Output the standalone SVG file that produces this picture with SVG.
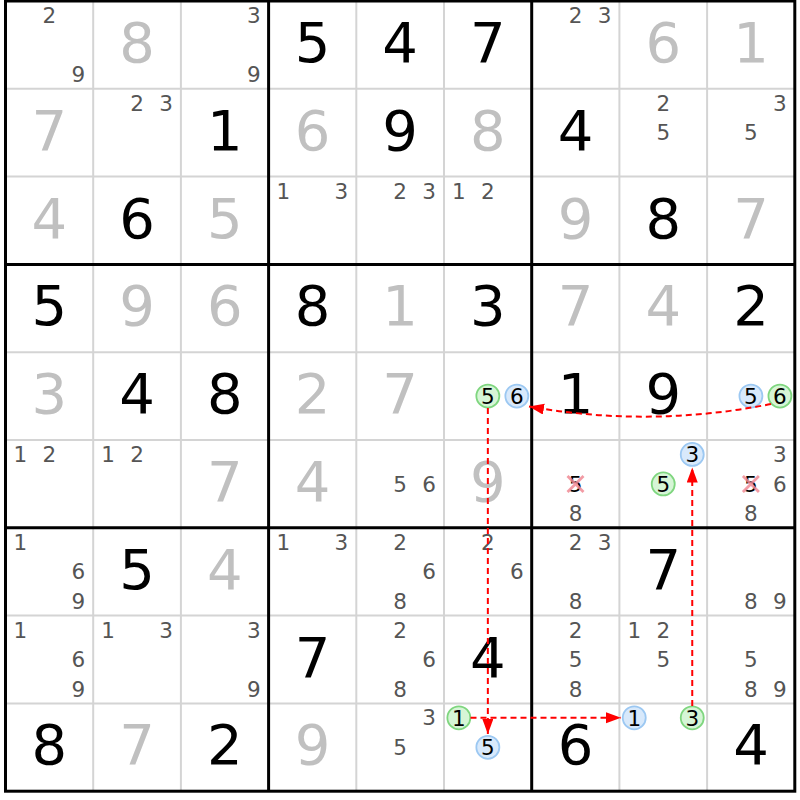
<svg xmlns="http://www.w3.org/2000/svg" width="800" height="800" viewBox="0 0 800 800">
<style>
text{font-family:"DejaVu Sans","Liberation Sans",sans-serif;text-anchor:middle}
.b{font-size:56px;fill:#000}
.s{font-size:56px;fill:#c0c0c0}
.c{font-size:21.5px;fill:#555}
.k{font-size:21.5px;fill:#000}
.gc{fill:#d6f5d6;stroke:#7fd67f;stroke-width:1.8}
.bc{fill:#d8e9fb;stroke:#9cc8f2;stroke-width:1.8}
.x{stroke:#f08a94;stroke-width:2.8;opacity:.85;fill:none}
.thin{stroke:#d4d4d4;stroke-width:2}
.thick{stroke:#000;stroke-width:3}
.ar{stroke:#f00;stroke-width:2;stroke-dasharray:6 4;fill:none}
</style>
<defs>
<marker id="ah" markerUnits="userSpaceOnUse" markerWidth="16" markerHeight="12" refX="15" refY="5.5" orient="auto">
<path d="M0,0 L15,5.5 L0,11 z" fill="#f00"/>
</marker>
</defs>
<rect width="800" height="800" fill="#fff"/>
<g id="grid">
<g class="thin">
<line x1="93.2" y1="1" x2="93.2" y2="791.2"/><line x1="180.9" y1="1" x2="180.9" y2="791.2"/>
<line x1="356.3" y1="1" x2="356.3" y2="791.2"/><line x1="444" y1="1" x2="444" y2="791.2"/>
<line x1="619.4" y1="1" x2="619.4" y2="791.2"/><line x1="707.1" y1="1" x2="707.1" y2="791.2"/>
<line x1="5.5" y1="88.8" x2="794.8" y2="88.8"/><line x1="5.5" y1="176.6" x2="794.8" y2="176.6"/>
<line x1="5.5" y1="352.2" x2="794.8" y2="352.2"/><line x1="5.5" y1="440" x2="794.8" y2="440"/>
<line x1="5.5" y1="615.6" x2="794.8" y2="615.6"/><line x1="5.5" y1="703.4" x2="794.8" y2="703.4"/>
</g>
<g class="thick">
<line x1="268.6" y1="1" x2="268.6" y2="791.2"/><line x1="531.7" y1="1" x2="531.7" y2="791.2"/>
<line x1="5.5" y1="264.4" x2="794.8" y2="264.4"/><line x1="5.5" y1="527.8" x2="794.8" y2="527.8"/>
<rect x="5.5" y="1" width="789.3" height="790.2" fill="none"/>
</g>
</g>

<g id="row0">
<g id="r0c0"><text class="c" x="49.35" y="23">2</text><text class="c" x="78.35" y="82">9</text></g>
<g id="r0c1"><text class="s" x="137.05" y="62">8</text></g>
<g id="r0c2"><text class="c" x="253.75" y="23">3</text><text class="c" x="253.75" y="82">9</text></g>
<g id="r0c3"><text class="b" x="312.45" y="62">5</text></g>
<g id="r0c4"><text class="b" x="400.15" y="62">4</text></g>
<g id="r0c5"><text class="b" x="487.85" y="62">7</text></g>
<g id="r0c6"><text class="c" x="575.55" y="23">2</text><text class="c" x="604.55" y="23">3</text></g>
<g id="r0c7"><text class="s" x="663.25" y="62">6</text></g>
<g id="r0c8"><text class="s" x="750.95" y="62">1</text></g>
</g>

<g id="row1">
<g id="r1c0"><text class="s" x="49.35" y="149.8">7</text></g>
<g id="r1c1"><text class="c" x="137.05" y="110.8">2</text><text class="c" x="166.05" y="110.8">3</text></g>
<g id="r1c2"><text class="b" x="224.75" y="149.8">1</text></g>
<g id="r1c3"><text class="s" x="312.45" y="149.8">6</text></g>
<g id="r1c4"><text class="b" x="400.15" y="149.8">9</text></g>
<g id="r1c5"><text class="s" x="487.85" y="149.8">8</text></g>
<g id="r1c6"><text class="b" x="575.55" y="149.8">4</text></g>
<g id="r1c7"><text class="c" x="663.25" y="110.8">2</text><text class="c" x="663.25" y="140.3">5</text></g>
<g id="r1c8"><text class="c" x="779.95" y="110.8">3</text><text class="c" x="750.95" y="140.3">5</text></g>
</g>

<g id="row2">
<g id="r2c0"><text class="s" x="49.35" y="237.6">4</text></g>
<g id="r2c1"><text class="b" x="137.05" y="237.6">6</text></g>
<g id="r2c2"><text class="s" x="224.75" y="237.6">5</text></g>
<g id="r2c3"><text class="c" x="283.45" y="198.6">1</text><text class="c" x="341.45" y="198.6">3</text></g>
<g id="r2c4"><text class="c" x="400.15" y="198.6">2</text><text class="c" x="429.15" y="198.6">3</text></g>
<g id="r2c5"><text class="c" x="458.85" y="198.6">1</text><text class="c" x="487.85" y="198.6">2</text></g>
<g id="r2c6"><text class="s" x="575.55" y="237.6">9</text></g>
<g id="r2c7"><text class="b" x="663.25" y="237.6">8</text></g>
<g id="r2c8"><text class="s" x="750.95" y="237.6">7</text></g>
</g>

<g id="row3">
<g id="r3c0"><text class="b" x="49.35" y="325.4">5</text></g>
<g id="r3c1"><text class="s" x="137.05" y="325.4">9</text></g>
<g id="r3c2"><text class="s" x="224.75" y="325.4">6</text></g>
<g id="r3c3"><text class="b" x="312.45" y="325.4">8</text></g>
<g id="r3c4"><text class="s" x="400.15" y="325.4">1</text></g>
<g id="r3c5"><text class="b" x="487.85" y="325.4">3</text></g>
<g id="r3c6"><text class="s" x="575.55" y="325.4">7</text></g>
<g id="r3c7"><text class="s" x="663.25" y="325.4">4</text></g>
<g id="r3c8"><text class="b" x="750.95" y="325.4">2</text></g>
</g>

<g id="row4">
<g id="r4c0"><text class="s" x="49.35" y="413.2">3</text></g>
<g id="r4c1"><text class="b" x="137.05" y="413.2">4</text></g>
<g id="r4c2"><text class="b" x="224.75" y="413.2">8</text></g>
<g id="r4c3"><text class="s" x="312.45" y="413.2">2</text></g>
<g id="r4c4"><text class="s" x="400.15" y="413.2">7</text></g>
<g id="r4c5"><circle class="gc" cx="487.85" cy="396.1" r="11.5"/><text class="k" x="487.85" y="403.9">5</text><circle class="bc" cx="516.85" cy="396.1" r="11.5"/><text class="k" x="516.85" y="403.9">6</text></g>
<g id="r4c6"><text class="b" x="575.55" y="413.2">1</text></g>
<g id="r4c7"><text class="b" x="663.25" y="413.2">9</text></g>
<g id="r4c8"><circle class="bc" cx="750.95" cy="396.1" r="11.5"/><text class="k" x="750.95" y="403.9">5</text><circle class="gc" cx="779.95" cy="396.1" r="11.5"/><text class="k" x="779.95" y="403.9">6</text></g>
</g>

<g id="row5">
<g id="r5c0"><text class="c" x="20.35" y="462">1</text><text class="c" x="49.35" y="462">2</text></g>
<g id="r5c1"><text class="c" x="108.05" y="462">1</text><text class="c" x="137.05" y="462">2</text></g>
<g id="r5c2"><text class="s" x="224.75" y="501">7</text></g>
<g id="r5c3"><text class="s" x="312.45" y="501">4</text></g>
<g id="r5c4"><text class="c" x="400.15" y="491.6">5</text><text class="c" x="429.15" y="491.6">6</text></g>
<g id="r5c5"><text class="s" x="487.85" y="501">9</text></g>
<g id="r5c6"><text class="k" x="575.55" y="491.6">5</text><path class="x" d="M567.5,475.9 L583.5,491.9 M583.5,475.9 L567.5,491.9"/><text class="c" x="575.55" y="521">8</text></g>
<g id="r5c7"><circle class="bc" cx="692.25" cy="454.4" r="11.5"/><text class="k" x="692.25" y="462.2">3</text><circle class="gc" cx="663.25" cy="483.9" r="11.5"/><text class="k" x="663.25" y="491.7">5</text></g>
<g id="r5c8"><text class="c" x="779.95" y="462">3</text><text class="k" x="750.95" y="491.6">5</text><path class="x" d="M742.9,475.9 L758.9,491.9 M758.9,475.9 L742.9,491.9"/><text class="c" x="779.95" y="491.6">6</text><text class="c" x="750.95" y="521">8</text></g>
</g>

<g id="row6">
<g id="r6c0"><text class="c" x="20.35" y="549.8">1</text><text class="c" x="78.35" y="579.3">6</text><text class="c" x="78.35" y="608.8">9</text></g>
<g id="r6c1"><text class="b" x="137.05" y="588.8">5</text></g>
<g id="r6c2"><text class="s" x="224.75" y="588.8">4</text></g>
<g id="r6c3"><text class="c" x="283.45" y="549.8">1</text><text class="c" x="341.45" y="549.8">3</text></g>
<g id="r6c4"><text class="c" x="400.15" y="549.8">2</text><text class="c" x="429.15" y="579.3">6</text><text class="c" x="400.15" y="608.8">8</text></g>
<g id="r6c5"><text class="c" x="487.85" y="549.8">2</text><text class="c" x="516.85" y="579.3">6</text></g>
<g id="r6c6"><text class="c" x="575.55" y="549.8">2</text><text class="c" x="604.55" y="549.8">3</text><text class="c" x="575.55" y="608.8">8</text></g>
<g id="r6c7"><text class="b" x="663.25" y="588.8">7</text></g>
<g id="r6c8"><text class="c" x="750.95" y="608.8">8</text><text class="c" x="779.95" y="608.8">9</text></g>
</g>

<g id="row7">
<g id="r7c0"><text class="c" x="20.35" y="637.6">1</text><text class="c" x="78.35" y="667.1">6</text><text class="c" x="78.35" y="696.6">9</text></g>
<g id="r7c1"><text class="c" x="108.05" y="637.6">1</text><text class="c" x="166.05" y="637.6">3</text></g>
<g id="r7c2"><text class="c" x="253.75" y="637.6">3</text><text class="c" x="253.75" y="696.6">9</text></g>
<g id="r7c3"><text class="b" x="312.45" y="676.6">7</text></g>
<g id="r7c4"><text class="c" x="400.15" y="637.6">2</text><text class="c" x="429.15" y="667.1">6</text><text class="c" x="400.15" y="696.6">8</text></g>
<g id="r7c5"><text class="b" x="487.85" y="676.6">4</text></g>
<g id="r7c6"><text class="c" x="575.55" y="637.6">2</text><text class="c" x="575.55" y="667.1">5</text><text class="c" x="575.55" y="696.6">8</text></g>
<g id="r7c7"><text class="c" x="634.25" y="637.6">1</text><text class="c" x="663.25" y="637.6">2</text><text class="c" x="663.25" y="667.1">5</text></g>
<g id="r7c8"><text class="c" x="750.95" y="667.1">5</text><text class="c" x="750.95" y="696.6">8</text><text class="c" x="779.95" y="696.6">9</text></g>
</g>

<g id="row8">
<g id="r8c0"><text class="b" x="49.35" y="764.4">8</text></g>
<g id="r8c1"><text class="s" x="137.05" y="764.4">7</text></g>
<g id="r8c2"><text class="b" x="224.75" y="764.4">2</text></g>
<g id="r8c3"><text class="s" x="312.45" y="764.4">9</text></g>
<g id="r8c4"><text class="c" x="429.15" y="725.4">3</text><text class="c" x="400.15" y="754.9">5</text></g>
<g id="r8c5"><circle class="gc" cx="458.85" cy="717.8" r="11.5"/><text class="k" x="458.85" y="725.6">1</text><circle class="bc" cx="487.85" cy="747.3" r="11.5"/><text class="k" x="487.85" y="755.1">5</text></g>
<g id="r8c6"><text class="b" x="575.55" y="764.4">6</text></g>
<g id="r8c7"><circle class="bc" cx="634.25" cy="717.8" r="11.5"/><text class="k" x="634.25" y="725.6">1</text><circle class="gc" cx="692.25" cy="717.8" r="11.5"/><text class="k" x="692.25" y="725.6">3</text></g>
<g id="r8c8"><text class="b" x="750.95" y="764.4">4</text></g>
</g>

<g id="links">
<path class="ar" d="M771,404 Q650,428 529,406.5" marker-end="url(#ah)"/>
<path class="ar" d="M487.85,408 L487.85,734" marker-end="url(#ah)"/>
<path class="ar" d="M470.5,717.8 L621,717.8" marker-end="url(#ah)"/>
<path class="ar" d="M692.25,706 L692.25,467.5" marker-end="url(#ah)"/>
</g>
</svg>
